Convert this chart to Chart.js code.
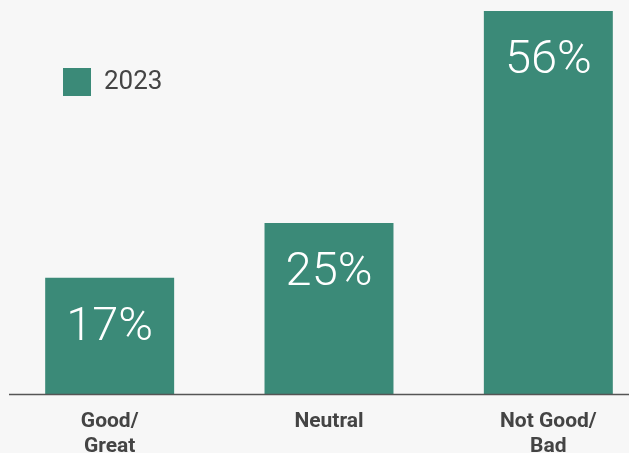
<!DOCTYPE html>
<html>
<head>
<meta charset="utf-8">
<script src="https://cdn.jsdelivr.net/npm/chart.js@4/dist/chart.umd.min.js"></script>
<style>
  html, body { margin: 0; padding: 0; background: #f7f7f7; overflow: hidden; }
  canvas { display: block; }
</style>
</head>
<body>
<canvas id="barChart" width="658" height="453"></canvas>
<script>
var categories = [['Good/', 'Great'], ['Neutral'], ['Not Good/', 'Bad']];
var seriesLabel = '2023';
var values = [17, 25, 56];

var teal = '#3b8a78';

// baseline under the bars, starts a little in from the left edge
var baseline = {
    id: 'baseline',
    afterDatasetsDraw: function(chart) {
        var ctx = chart.ctx;
        var y = chart.scales.y.getPixelForValue(0) + 0.5;
        ctx.save();
        ctx.strokeStyle = '#555555';
        ctx.lineWidth = 1.5;
        ctx.beginPath();
        ctx.moveTo(9, y);
        ctx.lineTo(chart.width, y);
        ctx.stroke();
        ctx.restore();
    }
};

// push the legend a bit lower inside the plot
var legendOffset = {
    id: 'legendOffset',
    afterLayout: function(chart) {
        chart.legend.top += 5;
    }
};

// percentage written inside the top of each bar
var valueLabels = {
    id: 'valueLabels',
    afterDatasetsDraw: function(chart) {
        var ctx = chart.ctx;
        var meta = chart.getDatasetMeta(0);
        ctx.save();
        ctx.fillStyle = '#ffffff';
        ctx.font = '300 47px Roboto';
        ctx.textAlign = 'center';
        ctx.textBaseline = 'top';
        meta.data.forEach(function(bar, i) {
            ctx.fillText(values[i] + '%', bar.x, bar.y + 27);
        });
        ctx.restore();
    }
};

var ctx = document.getElementById('barChart');
var barChart = new Chart(ctx, {
    type: 'bar',
    data: {
        labels: categories,
        datasets: [{
            label: seriesLabel,
            data: values,
            backgroundColor: teal,
            borderWidth: 0,
            barPercentage: 0.588,
            categoryPercentage: 1
        }]
    },
    options: {
        responsive: false,
        animation: false,
        layout: { padding: { top: 11, left: 0, right: 0, bottom: 0 } },
        plugins: {
            legend: {
                position: 'chartArea',
                align: 'start',
                labels: {
                    boxWidth: 28,
                    boxHeight: 28,
                    padding: 63,
                    color: '#444444',
                    font: { family: 'Roboto', size: 26 }
                }
            },
            tooltip: { enabled: false }
        },
        scales: {
            x: {
                grid: { display: false, drawTicks: false },
                border: { display: false },
                ticks: {
                    color: '#444444',
                    padding: 15,
                    maxRotation: 0,
                    font: { family: 'Roboto', size: 21, weight: 'bold', lineHeight: 1.19 }
                },
                afterFit: function(scale) { scale.height = 59; }
            },
            y: {
                display: false,
                min: 0,
                max: 56
            }
        }
    },
    plugins: [baseline, legendOffset, valueLabels]
});
</script>
</body>
</html>
